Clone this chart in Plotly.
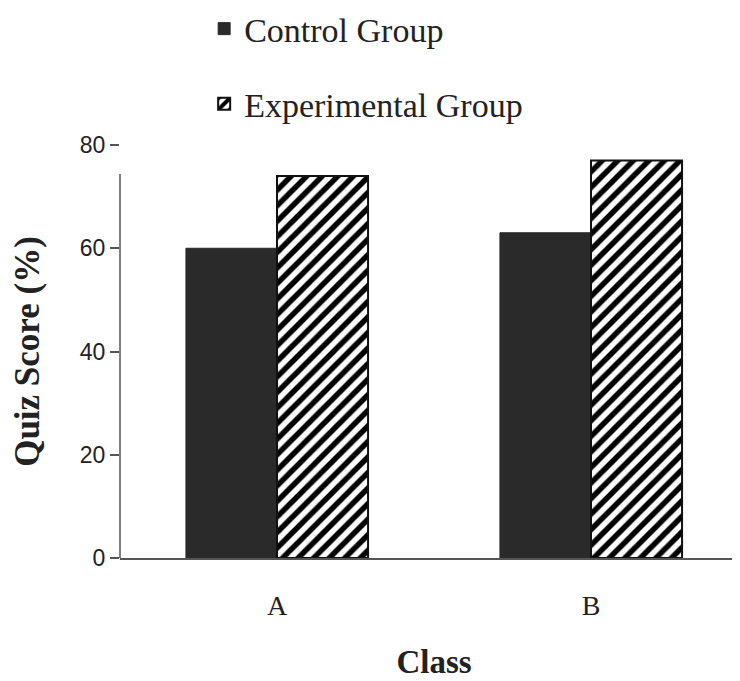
import plotly.graph_objects as go

classes = ["A", "B"]
control = [60, 63]
experimental = [74, 77]
series_names = ["Control Group", "Experimental Group"]
y_ticks = [0, 20, 40, 60, 80]

fig = go.Figure()
fig.add_trace(go.Bar(
    x=classes, y=control, name=series_names[0],
    marker=dict(color="#2a2a2a", line=dict(color="#2a2a2a", width=1)),
    legendgroup="g1",
))
fig.add_trace(go.Bar(
    x=classes, y=experimental, name=series_names[1],
    marker=dict(color="white", line=dict(color="#111111", width=2),
                pattern=dict(shape="/", fgcolor="#000000", bgcolor="white",
                             fgopacity=1, fillmode="replace",
                             size=11, solidity=0.5)),
    legendgroup="g2",
))

fig.update_layout(
    width=740, height=681,
    margin=dict(l=112, r=0, t=137, b=131, autoexpand=False),
    paper_bgcolor="white", plot_bgcolor="white",
    barmode="group", bargap=0.42, bargroupgap=0,
    showlegend=True,
    legend=dict(x=0.134, y=1.351, xanchor="left", yanchor="top",
                font=dict(family="Liberation Serif", size=34, color="#222222"),
                traceorder="grouped", tracegroupgap=28,
                bgcolor="rgba(0,0,0,0)"),
    xaxis=dict(range=[-0.5, 1.5], showline=True, linecolor="#555555", linewidth=1.5,
               ticks="", showgrid=False, zeroline=False, automargin=False,
               tickfont=dict(family="Liberation Serif", size=28, color="#222222"),
               ticklabelstandoff=22,
               title=dict(text="<b>Class</b>", standoff=30,
                          font=dict(family="Liberation Serif", size=33, color="#222222"))),
    yaxis=dict(range=[0, 80], tickvals=y_ticks, showline=False, automargin=False,
               ticks="outside", ticklen=9, tickcolor="#555555", tickwidth=1.5,
               showgrid=False, zeroline=False,
               tickfont=dict(family="Liberation Sans", size=23, color="#222222"),
               title=dict(text="<b>Quiz Score (%)</b>", standoff=29,
                          font=dict(family="Liberation Serif", size=35, color="#222222"))),
    shapes=[dict(type="line", xref="paper", yref="paper", x0=0, x1=0, y0=0, y1=0.93,
                 line=dict(color="#555555", width=1.5))],
)

fig.write_html("out.html")
